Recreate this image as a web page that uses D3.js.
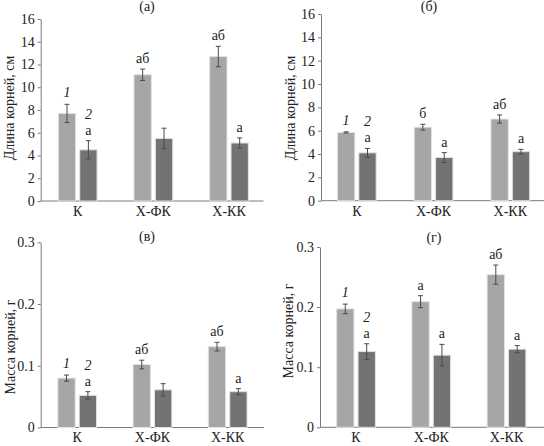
<!DOCTYPE html>
<html>
<head>
<meta charset="utf-8">
<script src="https://cdn.jsdelivr.net/npm/d3@7"></script>
<style>
    body { margin: 0; background: #fff; }
    svg text { font-family: "Liberation Serif", "Times New Roman", Times, "DejaVu Serif", "Noto Serif", serif; fill: #222; }
</style>
</head>
<body>
<div id="graph-container"></div>
<script>
// categories and series
const groups = ['К', 'Х-ФК', 'Х-КК'];
const series = ['1', '2'];

// (а) root length, cm
const lengthA1 = [7.7, 11.1, 12.7];
const lengthA2 = [4.5, 5.5, 5.1];
const errA1 = [0.8, 0.5, 0.9];
const errA2 = [0.8, 0.9, 0.45];
const lettersA1 = ['', 'аб', 'аб'];
const lettersA2 = ['а', '', 'а'];

// (б) root length, cm
const lengthB1 = [5.85, 6.3, 7.0];
const lengthB2 = [4.1, 3.7, 4.2];
const errB1 = [0.05, 0.25, 0.35];
const errB2 = [0.38, 0.42, 0.2];
const lettersB1 = ['', 'б', 'аб'];
const lettersB2 = ['а', 'а', 'а'];

// (в) root mass, g
const massV1 = [0.08, 0.102, 0.131];
const massV2 = [0.052, 0.061, 0.058];
const errV1 = [0.005, 0.007, 0.007];
const errV2 = [0.006, 0.01, 0.005];
const lettersV1 = ['', 'аб', 'аб'];
const lettersV2 = ['а', '', 'а'];

// (г) root mass, g
const massG1 = [0.197, 0.209, 0.254];
const massG2 = [0.126, 0.12, 0.13];
const errG1 = [0.008, 0.01, 0.016];
const errG2 = [0.013, 0.018, 0.006];
const lettersG1 = ['', 'а', 'аб'];
const lettersG2 = ['а', 'а', 'а'];

const lengthTicks = [0, 2, 4, 6, 8, 10, 12, 14, 16];
const massTicks = [0, 0.1, 0.2, 0.3];

const
    WIDTH = 544,
    HEIGHT = 446;

const colors = { '1': '#a6a6a6', '2': '#737373' };
const errColor = '#4a4a4a';
const axisColor = '#7a7a7a';
const fontSize = 14;
const serif = '"Liberation Serif", "Times New Roman", Times, "DejaVu Serif", "Noto Serif", serif';

// panel layout (pixels)
const panels = [
    {
        title: '(а)', titleX: 147, titleY: 11,
        label: 'Длина корней, см', labelX: 14, labelY: 108,
        axisX: 40.7, axisEnd: 263.5, top: 19, bottom: 201,
        centers: [77.7, 153.2, 229],
        ticks: lengthTicks, max: 16, fmt: d3.format('d'),
        v1: lengthA1, v2: lengthA2, e1: errA1, e2: errA2, l1: lettersA1, l2: lettersA2,
    },
    {
        title: '(б)', titleX: 429, titleY: 11,
        label: 'Длина корней, см', labelX: 295, labelY: 108,
        axisX: 321, axisEnd: 544, top: 14, bottom: 200.7,
        centers: [356.8, 433.5, 510.3],
        ticks: lengthTicks, max: 16, fmt: d3.format('d'),
        v1: lengthB1, v2: lengthB2, e1: errB1, e2: errB2, l1: lettersB1, l2: lettersB2,
    },
    {
        title: '(в)', titleX: 147, titleY: 241,
        label: 'Масса корней, г', labelX: 14.5, labelY: 347,
        axisX: 40.7, axisEnd: 264, top: 242.3, bottom: 427.5,
        centers: [77.2, 152.2, 227.7],
        ticks: massTicks, max: 0.3, fmt: (d) => d === 0 ? '0' : d3.format('.1f')(d),
        v1: massV1, v2: massV2, e1: errV1, e2: errV2, l1: lettersV1, l2: lettersV2,
    },
    {
        title: '(г)', titleX: 434, titleY: 242,
        label: 'Масса корней, г', labelX: 293, labelY: 331,
        axisX: 320, axisEnd: 544, top: 247, bottom: 427.3,
        centers: [356, 431.2, 506.5],
        ticks: massTicks, max: 0.3, fmt: (d) => d === 0 ? '0' : d3.format('.1f')(d),
        v1: massG1, v2: massG2, e1: errG1, e2: errG2, l1: lettersG1, l2: lettersG2,
    },
];

const groupWidth = 38.7;

const svg = d3.select('#graph-container').append('svg')
    .attr('width', WIDTH)
    .attr('height', HEIGHT)
    .attr('font-family', serif);

const drawPanel = (p) => {
    const g = svg.append('g');

    const step = (p.centers[2] - p.centers[0]) / 2;
    const inner = 1 - groupWidth / step;

    const xScale = d3.scaleBand()
        .domain(groups)
        .range([p.centers[0] - step / 2, p.centers[2] + step / 2])
        .paddingInner(inner)
        .paddingOuter(inner / 2);

    const xSub = d3.scaleBand()
        .domain(series)
        .range([0, xScale.bandwidth()])
        .paddingInner(0.19);

    const yScale = d3.scaleLinear()
        .domain([0, p.max])
        .range([p.bottom, p.top]);

    // y axis
    const yAxis = g.append('g')
        .attr('transform', `translate(${p.axisX}, 0)`)
        .call(d3.axisLeft(yScale)
            .tickValues(p.ticks)
            .tickFormat(p.fmt)
            .tickSize(3)
            .tickSizeOuter(0)
            .tickPadding(3));
    yAxis.attr('font-family', serif).attr('font-size', fontSize);
    yAxis.select('.domain').attr('stroke', axisColor);
    yAxis.selectAll('line').attr('stroke', axisColor);
    yAxis.selectAll('text').attr('fill', '#222');

    // x axis
    g.append('line')
        .attr('x1', p.axisX)
        .attr('x2', p.axisEnd)
        .attr('y1', p.bottom)
        .attr('y2', p.bottom)
        .attr('stroke', axisColor);

    const xAxis = g.append('g')
        .attr('transform', `translate(0, ${p.bottom})`)
        .call(d3.axisBottom(xScale).tickSize(0).tickPadding(5));
    xAxis.attr('font-family', serif).attr('font-size', fontSize);
    xAxis.select('.domain').remove();
    xAxis.selectAll('text').attr('fill', '#222');

    // bars
    const rows = [];
    groups.forEach((grp, i) => {
        rows.push({ grp, s: '1', v: p.v1[i], e: p.e1[i], l: p.l1[i], i });
        rows.push({ grp, s: '2', v: p.v2[i], e: p.e2[i], l: p.l2[i], i });
    });

    const bx = (d) => xScale(d.grp) + xSub(d.s);
    const cx = (d) => bx(d) + xSub.bandwidth() / 2;

    g.selectAll('rect.bar')
        .data(rows)
        .join('rect')
        .attr('class', 'bar')
        .attr('x', bx)
        .attr('y', (d) => yScale(d.v))
        .attr('width', xSub.bandwidth())
        .attr('height', (d) => yScale(0) - yScale(d.v))
        .attr('fill', (d) => colors[d.s])
        .attr('stroke', '#e2e2e2')
        .attr('stroke-width', 1);

    // error bars
    const err = g.selectAll('g.err')
        .data(rows)
        .join('g')
        .attr('class', 'err')
        .attr('stroke', errColor)
        .attr('stroke-width', 1);
    err.append('line')
        .attr('x1', cx).attr('x2', cx)
        .attr('y1', (d) => yScale(d.v + d.e))
        .attr('y2', (d) => yScale(d.v - d.e));
    err.append('line')
        .attr('x1', (d) => cx(d) - 2.5).attr('x2', (d) => cx(d) + 2.5)
        .attr('y1', (d) => yScale(d.v + d.e))
        .attr('y2', (d) => yScale(d.v + d.e));
    err.append('line')
        .attr('x1', (d) => cx(d) - 2.5).attr('x2', (d) => cx(d) + 2.5)
        .attr('y1', (d) => yScale(d.v - d.e))
        .attr('y2', (d) => yScale(d.v - d.e));

    // significance letters
    g.selectAll('text.sig')
        .data(rows.filter((d) => d.l))
        .join('text')
        .attr('class', 'sig')
        .attr('x', cx)
        .attr('y', (d) => yScale(d.v + d.e) - 6)
        .attr('text-anchor', 'middle')
        .attr('font-size', fontSize)
        .text((d) => d.l);

    // series numbers on the first group
    g.selectAll('text.num')
        .data(rows.filter((d) => d.i === 0))
        .join('text')
        .attr('class', 'num')
        .attr('x', cx)
        .attr('y', (d) => yScale(d.v + d.e) - (d.l ? 22 : 7))
        .attr('text-anchor', 'middle')
        .attr('font-size', fontSize)
        .attr('font-style', 'italic')
        .text((d) => d.s);

    // title
    g.append('text')
        .attr('x', p.titleX)
        .attr('y', p.titleY)
        .attr('text-anchor', 'middle')
        .attr('font-size', fontSize)
        .text(p.title);

    // y label
    g.append('text')
        .attr('transform', `translate(${p.labelX}, ${p.labelY}) rotate(-90)`)
        .attr('text-anchor', 'middle')
        .attr('font-size', fontSize)
        .text(p.label);
};

panels.forEach(drawPanel);
</script>
</body>
</html>
